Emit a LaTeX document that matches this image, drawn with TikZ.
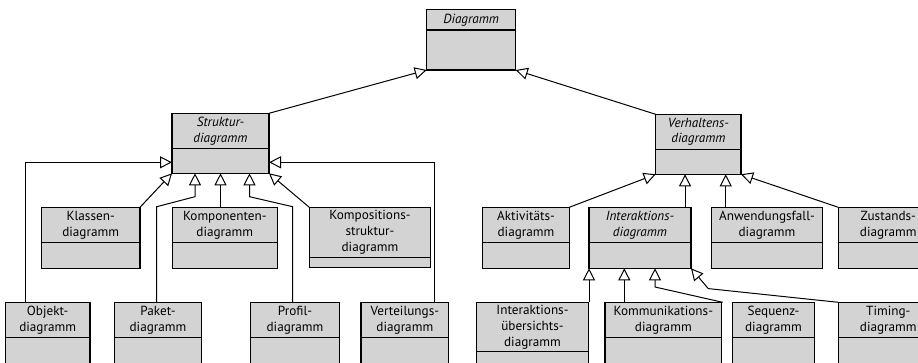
\documentclass[tikz,border=0pt]{standalone}
\usepackage{fontspec}
\setmainfont{PT Sans}
\usetikzlibrary{arrows.meta}
\definecolor{umlgrau}{HTML}{D3D3D3}
\begin{document}
\begin{tikzpicture}[x=1pt, y=-1pt]
	\tikzset{kopf/.style={rectangle, draw=black, fill=umlgrau, line width=1.1pt, align=center, inner sep=1pt, outer sep=0pt, anchor=north west, font=\fontsize{13.2}{15.8}\selectfont},
	rumpf/.style={rectangle, draw=black, fill=umlgrau, line width=1.1pt, inner sep=0pt, outer sep=0pt, anchor=north},
	erbt/.style={-{Triangle[open, length=12pt, width=12pt, fill=white]}, line width=1pt}};
	\useasboundingbox (0,0) rectangle (918,362);
	\clip (0,0) rectangle (918,362);
	% Klassen: Name/links/oben/Breite/Kopf/Rumpf/Text
	\foreach \n/\x/\y/\w/\hk/\hr/\t in {
		diagramm/426.7/9.7/89/20.3/40/{\textit{Diagramm}},
		struktur/172/113.3/97/35/25/{\textit{Struktur-}\\\textit{diagramm}},
		verhalten/655.7/114.3/85.3/35/25/{\textit{Verhaltens-}\\\textit{diagramm}},
		klassen/41.3/207.3/98.7/35.4/25.6/{Klassen-\\diagramm},
		komponenten/172.3/207.3/105/35.4/25.6/{Komponenten-\\diagramm},
		kompositions/309.3/207.3/121.4/50/10/{Kompositions-\\struktur-\\diagramm},
		aktivitaet/482.7/207.3/86.6/35.4/25.6/{Aktivitäts-\\diagramm},
		interaktion/589/207.3/102/35.4/25.6/{\textit{Interaktions-}\\\textit{diagramm}},
		anwendungsfall/711.7/207.3/110.6/35.4/25.6/{Anwendungsfall-\\diagramm},
		zustand/838.3/207.3/100/35.4/25.6/{Zustands-\\diagramm},
		objekt/5.3/302.3/84.7/35.4/40/{Objekt-\\diagramm},
		paket/114.3/302.3/87.4/35.4/40/{Paket-\\diagramm},
		profil/250.7/302.3/88.6/35.4/40/{Profil-\\diagramm},
		verteilung/361/302.3/87.7/35.4/40/{Verteilungs-\\diagramm},
		uebersicht/476.7/302.3/111.6/49.4/30/{Interaktions-\\übersichts-\\diagramm},
		kommunikation/605/302.3/116.7/35.4/40/{Kommunikations-\\diagramm},
		sequenz/732.7/302.3/81.6/35.4/40/{Sequenz-\\diagramm},
		timing/838.3/302.3/100/35.4/40/{Timing-\\diagramm}} {
		\node[kopf, minimum width=\w, minimum height=\hk] (\n) at (\x,\y) {\t};
		\node[rumpf, minimum width=\w, minimum height=\hr] (\n-r) at (\n.south) {};
	}

	\draw[erbt] (struktur.north east) -- (diagramm-r.south west);
	\draw[erbt] (verhalten.north west) -- (diagramm-r.south east);

	% Strukturdiagramme
	\draw[erbt] ([xshift=19.7]objekt.north west) |- ([yshift=-1.5]struktur-r.west);
	\draw[erbt] ([xshift=-14.7]verteilung.north east) |- ([yshift=-1.5]struktur-r.east);
	\draw[erbt] (klassen.north east) -- (struktur-r.south west);
	\draw[erbt] (kompositions.north west) -- (struktur-r.south east);
	\draw[erbt] (struktur-r.south |- komponenten.north) -- (struktur-r.south);
	\draw[erbt] ([xshift=-1.3]paket.north) -- ++(0,-95.6) -- ([xshift=-25.5,yshift=-23.4]struktur-r.south) -- ([xshift=-25.5]struktur-r.south);
	\draw[erbt] ([xshift=-2.3]profil.north) -- ++(0,-95.6) -- ([xshift=29,yshift=-23.4]struktur-r.south) -- ([xshift=29]struktur-r.south);

	% Verhaltensdiagramme
	\draw[erbt] (aktivitaet.north east) -- (verhalten-r.south west);
	\draw[erbt] (zustand.north west) -- (verhalten-r.south east);
	\draw[erbt] ([xshift=-13.3]verhalten-r.south |- interaktion.north) -- ([xshift=-13.3]verhalten-r.south);
	\draw[erbt] ([xshift=27.4]verhalten-r.south |- anwendungsfall.north) -- ([xshift=27.4]verhalten-r.south);

	% Interaktionsdiagramme
	\coordinate (seq-ende) at ([xshift=-10]sequenz.north west);
	\draw[erbt] (interaktion-r.south west |- uebersicht.north) -- (interaktion-r.south west);
	\draw[erbt] ([xshift=-15.7]interaktion-r.south |- kommunikation.north) -- ([xshift=-15.7]interaktion-r.south);
	\draw[erbt] (seq-ende) -- ([xshift=15,yshift=-18.7]interaktion-r.south) -- ([xshift=15]interaktion-r.south);
	\draw[erbt] (timing.north west) -- ([xshift=17.3,yshift=-20.3]interaktion-r.south east) -- (interaktion-r.south east);
\end{tikzpicture}
\end{document}
